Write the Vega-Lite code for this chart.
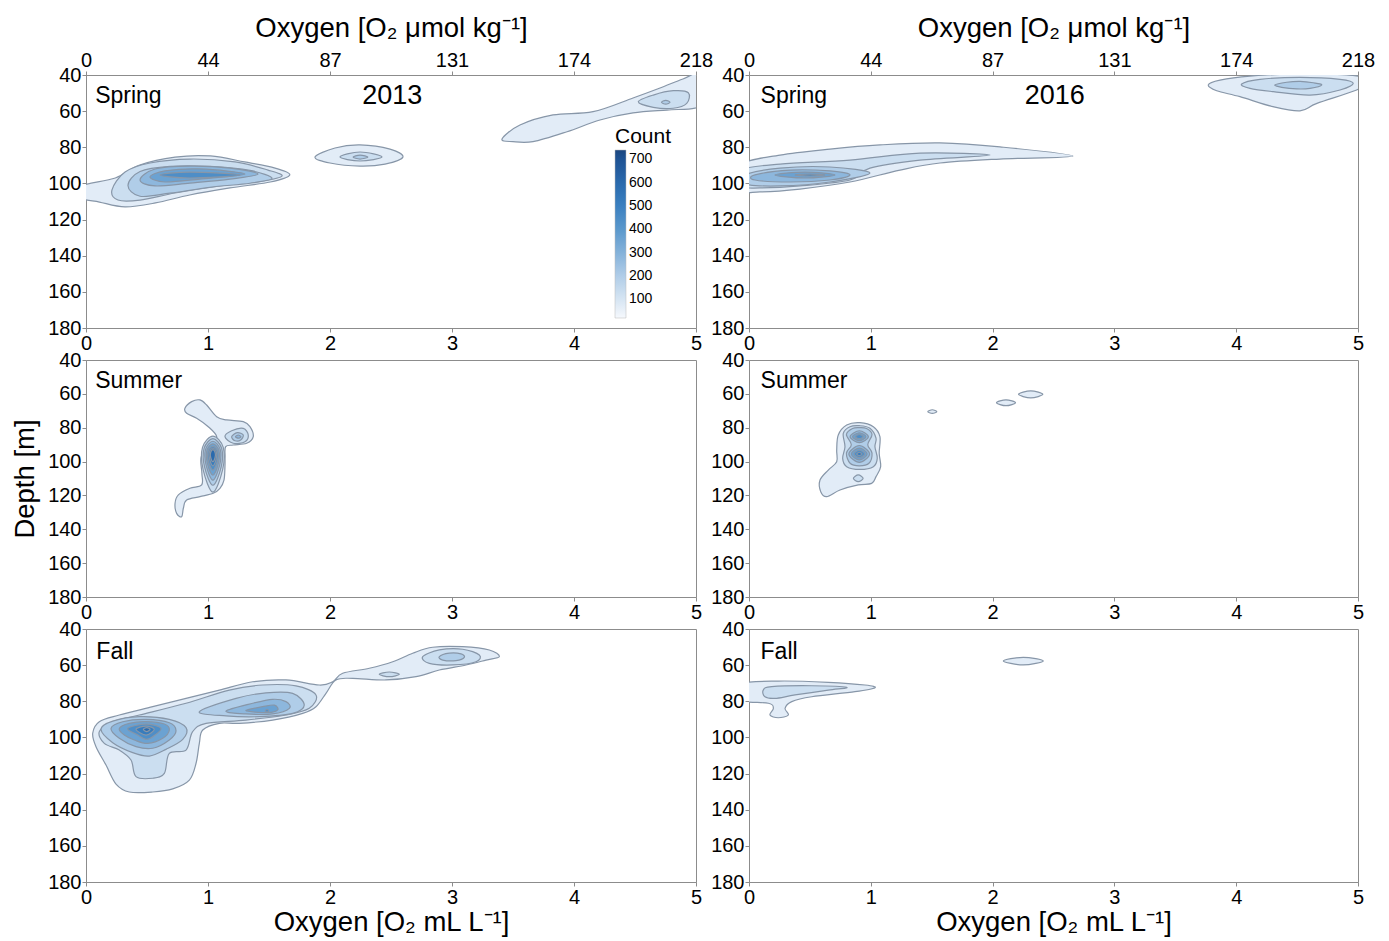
{
"$schema": "https://vega.github.io/schema/vega-lite/v6.json",
"padding": {"left": 11, "top": 13, "right": 5, "bottom": 2},
"config": {"font": "Liberation Sans", "view": {"stroke": "#8c8c8c", "strokeWidth": 1},
  "axis": {"domainColor": "#8c8c8c", "tickColor": "#8c8c8c", "tickSize": 4, "labelFontSize": 20, "labelColor": "black", "grid": false, "labelPadding": 1, "titleFontSize": 27.5, "titleFontWeight": "normal", "titleColor": "black", "labelFlush": false, "labelOverlap": false},
  "text": {"color": "black"}},
"datasets": {"contours": [
{"p":1,"poly":"070A1","count":70,"k":0,"o2":-0.04,"depth":101.5},{"p":1,"poly":"070A1","count":70,"k":1,"o2":0.24,"depth":97},{"p":1,"poly":"070A1","count":70,"k":2,"o2":0.44,"depth":89.8},{"p":1,"poly":"070A1","count":70,"k":3,"o2":0.73,"depth":85.4},{"p":1,"poly":"070A1","count":70,"k":4,"o2":1.02,"depth":84.8},{"p":1,"poly":"070A1","count":70,"k":5,"o2":1.3,"depth":88.1},{"p":1,"poly":"070A1","count":70,"k":6,"o2":1.55,"depth":91.5},{"p":1,"poly":"070A1","count":70,"k":7,"o2":1.67,"depth":95.3},{"p":1,"poly":"070A1","count":70,"k":8,"o2":1.51,"depth":99.2},{"p":1,"poly":"070A1","count":70,"k":9,"o2":1.18,"depth":102.5},{"p":1,"poly":"070A1","count":70,"k":10,"o2":0.85,"depth":106.4},{"p":1,"poly":"070A1","count":70,"k":11,"o2":0.57,"depth":110.8},{"p":1,"poly":"070A1","count":70,"k":12,"o2":0.32,"depth":113},{"p":1,"poly":"070A1","count":70,"k":13,"o2":0.11,"depth":110.3},{"p":1,"poly":"070A1","count":70,"k":14,"o2":-0.04,"depth":108},
{"p":1,"poly":"070B1","count":70,"k":0,"o2":1.877,"depth":85.4},{"p":1,"poly":"070B1","count":70,"k":1,"o2":2.041,"depth":80.4},{"p":1,"poly":"070B1","count":70,"k":2,"o2":2.246,"depth":78.7},{"p":1,"poly":"070B1","count":70,"k":3,"o2":2.492,"depth":81},{"p":1,"poly":"070B1","count":70,"k":4,"o2":2.598,"depth":85.4},{"p":1,"poly":"070B1","count":70,"k":5,"o2":2.451,"depth":89.3},{"p":1,"poly":"070B1","count":70,"k":6,"o2":2.246,"depth":90.4},{"p":1,"poly":"070B1","count":70,"k":7,"o2":2,"depth":88.7},
{"p":1,"poly":"070C1","count":70,"k":0,"o2":3.41,"depth":75.4},{"p":1,"poly":"070C1","count":70,"k":1,"o2":3.557,"depth":67.7},{"p":1,"poly":"070C1","count":70,"k":2,"o2":3.828,"depth":62.1},{"p":1,"poly":"070C1","count":70,"k":3,"o2":4.156,"depth":60.3},{"p":1,"poly":"070C1","count":70,"k":4,"o2":4.484,"depth":52.7},{"p":1,"poly":"070C1","count":70,"k":5,"o2":4.705,"depth":47.2},{"p":1,"poly":"070C1","count":70,"k":6,"o2":4.893,"depth":42.2},{"p":1,"poly":"070C1","count":70,"k":7,"o2":5.07,"depth":38.3},{"p":1,"poly":"070C1","count":70,"k":8,"o2":5.11,"depth":53.8},{"p":1,"poly":"070C1","count":70,"k":9,"o2":4.992,"depth":58.3},{"p":1,"poly":"070C1","count":70,"k":10,"o2":4.762,"depth":59.4},{"p":1,"poly":"070C1","count":70,"k":11,"o2":4.484,"depth":61},{"p":1,"poly":"070C1","count":70,"k":12,"o2":4.213,"depth":64.9},{"p":1,"poly":"070C1","count":70,"k":13,"o2":3.943,"depth":71.4},{"p":1,"poly":"070C1","count":70,"k":14,"o2":3.664,"depth":76.9},{"p":1,"poly":"070C1","count":70,"k":15,"o2":3.5,"depth":76.9},
{"p":1,"poly":"130A2","count":130,"k":0,"o2":0.213,"depth":103.6},{"p":1,"poly":"130A2","count":130,"k":1,"o2":0.32,"depth":93.7},{"p":1,"poly":"130A2","count":130,"k":2,"o2":0.525,"depth":88.7},{"p":1,"poly":"130A2","count":130,"k":3,"o2":0.852,"depth":86.5},{"p":1,"poly":"130A2","count":130,"k":4,"o2":1.221,"depth":88.1},{"p":1,"poly":"130A2","count":130,"k":5,"o2":1.492,"depth":92.6},{"p":1,"poly":"130A2","count":130,"k":6,"o2":1.607,"depth":95.9},{"p":1,"poly":"130A2","count":130,"k":7,"o2":1.443,"depth":98.7},{"p":1,"poly":"130A2","count":130,"k":8,"o2":1.098,"depth":101.4},{"p":1,"poly":"130A2","count":130,"k":9,"o2":0.73,"depth":105.3},{"p":1,"poly":"130A2","count":130,"k":10,"o2":0.443,"depth":109.2},{"p":1,"poly":"130A2","count":130,"k":11,"o2":0.262,"depth":109.2},
{"p":1,"poly":"130B2","count":130,"k":0,"o2":2.082,"depth":85.4},{"p":1,"poly":"130B2","count":130,"k":1,"o2":2.246,"depth":82.6},{"p":1,"poly":"130B2","count":130,"k":2,"o2":2.426,"depth":85.4},{"p":1,"poly":"130B2","count":130,"k":3,"o2":2.246,"depth":87.6},
{"p":1,"poly":"130C2","count":130,"k":0,"o2":4.527,"depth":54.8},{"p":1,"poly":"130C2","count":130,"k":1,"o2":4.65,"depth":51.1},{"p":1,"poly":"130C2","count":130,"k":2,"o2":4.814,"depth":48.7},{"p":1,"poly":"130C2","count":130,"k":3,"o2":4.937,"depth":49.8},{"p":1,"poly":"130C2","count":130,"k":4,"o2":4.924,"depth":55.7},{"p":1,"poly":"130C2","count":130,"k":5,"o2":4.814,"depth":58.4},{"p":1,"poly":"130C2","count":130,"k":6,"o2":4.65,"depth":57.9},
{"p":1,"poly":"200A3","count":200,"k":0,"o2":0.344,"depth":101.1},{"p":1,"poly":"200A3","count":200,"k":1,"o2":0.443,"depth":93.4},{"p":1,"poly":"200A3","count":200,"k":2,"o2":0.689,"depth":90.6},{"p":1,"poly":"200A3","count":200,"k":3,"o2":1.016,"depth":90.6},{"p":1,"poly":"200A3","count":200,"k":4,"o2":1.344,"depth":92.8},{"p":1,"poly":"200A3","count":200,"k":5,"o2":1.525,"depth":97.2},{"p":1,"poly":"200A3","count":200,"k":6,"o2":1.344,"depth":99.9},{"p":1,"poly":"200A3","count":200,"k":7,"o2":1.016,"depth":102.1},{"p":1,"poly":"200A3","count":200,"k":8,"o2":0.689,"depth":105.4},{"p":1,"poly":"200A3","count":200,"k":9,"o2":0.443,"depth":107.1},
{"p":1,"poly":"200B3","count":200,"k":0,"o2":2.189,"depth":85.4},{"p":1,"poly":"200B3","count":200,"k":1,"o2":2.246,"depth":84.3},{"p":1,"poly":"200B3","count":200,"k":2,"o2":2.311,"depth":85.4},{"p":1,"poly":"200B3","count":200,"k":3,"o2":2.246,"depth":86.5},
{"p":1,"poly":"200C3","count":200,"k":0,"o2":4.717,"depth":55.1},{"p":1,"poly":"200C3","count":200,"k":1,"o2":4.752,"depth":54},{"p":1,"poly":"200C3","count":200,"k":2,"o2":4.787,"depth":55.1},{"p":1,"poly":"200C3","count":200,"k":3,"o2":4.752,"depth":56.1},
{"p":1,"poly":"280A4","count":280,"k":0,"o2":0.443,"depth":98.1},{"p":1,"poly":"280A4","count":280,"k":1,"o2":0.566,"depth":92},{"p":1,"poly":"280A4","count":280,"k":2,"o2":0.852,"depth":90.4},{"p":1,"poly":"280A4","count":280,"k":3,"o2":1.18,"depth":91.5},{"p":1,"poly":"280A4","count":280,"k":4,"o2":1.41,"depth":94.8},{"p":1,"poly":"280A4","count":280,"k":5,"o2":1.18,"depth":97.6},{"p":1,"poly":"280A4","count":280,"k":6,"o2":0.852,"depth":99.8},{"p":1,"poly":"280A4","count":280,"k":7,"o2":0.566,"depth":101.4},
{"p":1,"poly":"360A5","count":360,"k":0,"o2":0.525,"depth":96.4},{"p":1,"poly":"360A5","count":360,"k":1,"o2":0.648,"depth":93.1},{"p":1,"poly":"360A5","count":360,"k":2,"o2":0.934,"depth":92},{"p":1,"poly":"360A5","count":360,"k":3,"o2":1.303,"depth":94.8},{"p":1,"poly":"360A5","count":360,"k":4,"o2":0.934,"depth":97.6},{"p":1,"poly":"360A5","count":360,"k":5,"o2":0.648,"depth":99.2},
{"p":1,"poly":"440A6","count":440,"k":0,"o2":0.607,"depth":95.3},{"p":1,"poly":"440A6","count":440,"k":1,"o2":0.852,"depth":93.7},{"p":1,"poly":"440A6","count":440,"k":2,"o2":1.262,"depth":95.3},{"p":1,"poly":"440A6","count":440,"k":3,"o2":0.852,"depth":97},

{"p":2,"poly":"070D1","count":70,"k":0,"o2":-0.074,"depth":89.8},{"p":2,"poly":"070D1","count":70,"k":1,"o2":0.255,"depth":84.3},{"p":2,"poly":"070D1","count":70,"k":2,"o2":0.665,"depth":81},{"p":2,"poly":"070D1","count":70,"k":3,"o2":1.076,"depth":78.7},{"p":2,"poly":"070D1","count":70,"k":4,"o2":1.568,"depth":77.6},{"p":2,"poly":"070D1","count":70,"k":5,"o2":2.061,"depth":79.8},{"p":2,"poly":"070D1","count":70,"k":6,"o2":2.66,"depth":84.8},{"p":2,"poly":"070D1","count":70,"k":7,"o2":2.061,"depth":86.5},{"p":2,"poly":"070D1","count":70,"k":8,"o2":1.568,"depth":88.7},{"p":2,"poly":"070D1","count":70,"k":9,"o2":1.24,"depth":92.6},{"p":2,"poly":"070D1","count":70,"k":10,"o2":0.829,"depth":99.2},{"p":2,"poly":"070D1","count":70,"k":11,"o2":0.419,"depth":103.1},{"p":2,"poly":"070D1","count":70,"k":12,"o2":0.09,"depth":104.7},{"p":2,"poly":"070D1","count":70,"k":13,"o2":-0.074,"depth":103.6},
{"p":2,"poly":"070E1","count":70,"k":0,"o2":3.771,"depth":45.5},{"p":2,"poly":"070E1","count":70,"k":1,"o2":3.867,"depth":42.8},{"p":2,"poly":"070E1","count":70,"k":2,"o2":4.113,"depth":40.6},{"p":2,"poly":"070E1","count":70,"k":3,"o2":4.524,"depth":39.4},{"p":2,"poly":"070E1","count":70,"k":4,"o2":4.907,"depth":40},{"p":2,"poly":"070E1","count":70,"k":5,"o2":5.14,"depth":42.8},{"p":2,"poly":"070E1","count":70,"k":6,"o2":4.989,"depth":48.3},{"p":2,"poly":"070E1","count":70,"k":7,"o2":4.663,"depth":55.7},{"p":2,"poly":"070E1","count":70,"k":8,"o2":4.524,"depth":59.8},{"p":2,"poly":"070E1","count":70,"k":9,"o2":4.302,"depth":57.5},{"p":2,"poly":"070E1","count":70,"k":10,"o2":4.031,"depth":52},{"p":2,"poly":"070E1","count":70,"k":11,"o2":3.84,"depth":48.7},
{"p":2,"poly":"130D2","count":130,"k":0,"o2":-0.074,"depth":92.6},{"p":2,"poly":"130D2","count":130,"k":1,"o2":0.255,"depth":89.3},{"p":2,"poly":"130D2","count":130,"k":2,"o2":0.829,"depth":87.1},{"p":2,"poly":"130D2","count":130,"k":3,"o2":1.404,"depth":83.2},{"p":2,"poly":"130D2","count":130,"k":4,"o2":1.979,"depth":84.3},{"p":2,"poly":"130D2","count":130,"k":5,"o2":1.404,"depth":87.1},{"p":2,"poly":"130D2","count":130,"k":6,"o2":0.993,"depth":91.5},{"p":2,"poly":"130D2","count":130,"k":7,"o2":0.829,"depth":98.1},{"p":2,"poly":"130D2","count":130,"k":8,"o2":0.419,"depth":101.4},{"p":2,"poly":"130D2","count":130,"k":9,"o2":0.09,"depth":102.5},{"p":2,"poly":"130D2","count":130,"k":10,"o2":-0.074,"depth":101.4},
{"p":2,"poly":"130E2","count":130,"k":0,"o2":4.045,"depth":45},{"p":2,"poly":"130E2","count":130,"k":1,"o2":4.195,"depth":42.4},{"p":2,"poly":"130E2","count":130,"k":2,"o2":4.524,"depth":41.3},{"p":2,"poly":"130E2","count":130,"k":3,"o2":4.852,"depth":42.4},{"p":2,"poly":"130E2","count":130,"k":4,"o2":4.961,"depth":44.6},{"p":2,"poly":"130E2","count":130,"k":5,"o2":4.852,"depth":48.3},{"p":2,"poly":"130E2","count":130,"k":6,"o2":4.606,"depth":51.1},{"p":2,"poly":"130E2","count":130,"k":7,"o2":4.304,"depth":49.2},{"p":2,"poly":"130E2","count":130,"k":8,"o2":4.113,"depth":47.4},
{"p":2,"poly":"200D3","count":200,"k":0,"o2":-0.033,"depth":95.3},{"p":2,"poly":"200D3","count":200,"k":1,"o2":0.255,"depth":91.5},{"p":2,"poly":"200D3","count":200,"k":2,"o2":0.665,"depth":90.9},{"p":2,"poly":"200D3","count":200,"k":3,"o2":0.993,"depth":94.2},{"p":2,"poly":"200D3","count":200,"k":4,"o2":0.665,"depth":99.2},{"p":2,"poly":"200D3","count":200,"k":5,"o2":0.255,"depth":101.4},{"p":2,"poly":"200D3","count":200,"k":6,"o2":-0.033,"depth":100.3},
{"p":2,"poly":"200E3","count":200,"k":0,"o2":4.318,"depth":45.5},{"p":2,"poly":"200E3","count":200,"k":1,"o2":4.415,"depth":44},{"p":2,"poly":"200E3","count":200,"k":2,"o2":4.524,"depth":43.5},{"p":2,"poly":"200E3","count":200,"k":3,"o2":4.633,"depth":44.3},{"p":2,"poly":"200E3","count":200,"k":4,"o2":4.702,"depth":45.5},{"p":2,"poly":"200E3","count":200,"k":5,"o2":4.606,"depth":47.4},{"p":2,"poly":"200E3","count":200,"k":6,"o2":4.497,"depth":47.7},{"p":2,"poly":"200E3","count":200,"k":7,"o2":4.374,"depth":46.8},
{"p":2,"poly":"280D4","count":280,"k":0,"o2":0.049,"depth":95.3},{"p":2,"poly":"280D4","count":280,"k":1,"o2":0.337,"depth":92.6},{"p":2,"poly":"280D4","count":280,"k":2,"o2":0.665,"depth":93.1},{"p":2,"poly":"280D4","count":280,"k":3,"o2":0.829,"depth":95.3},{"p":2,"poly":"280D4","count":280,"k":4,"o2":0.665,"depth":98.1},{"p":2,"poly":"280D4","count":280,"k":5,"o2":0.337,"depth":99.2},{"p":2,"poly":"280D4","count":280,"k":6,"o2":0.049,"depth":98.1},
{"p":2,"poly":"360D5","count":360,"k":0,"o2":0.213,"depth":95.3},{"p":2,"poly":"360D5","count":360,"k":1,"o2":0.46,"depth":93.7},{"p":2,"poly":"360D5","count":360,"k":2,"o2":0.706,"depth":95.3},{"p":2,"poly":"360D5","count":360,"k":3,"o2":0.46,"depth":97},
{"p":2,"poly":"480D6","count":480,"k":0,"o2":0.378,"depth":95.3},{"p":2,"poly":"480D6","count":480,"k":1,"o2":0.501,"depth":94.8},{"p":2,"poly":"480D6","count":480,"k":2,"o2":0.624,"depth":95.3},{"p":2,"poly":"480D6","count":480,"k":3,"o2":0.501,"depth":95.9},

{"p":3,"poly":"070F1","count":70,"k":0,"o2":0.811,"depth":68.5},{"p":3,"poly":"070F1","count":70,"k":1,"o2":0.866,"depth":64.6},{"p":3,"poly":"070F1","count":70,"k":2,"o2":0.934,"depth":63.6},{"p":3,"poly":"070F1","count":70,"k":3,"o2":0.989,"depth":66.6},{"p":3,"poly":"070F1","count":70,"k":4,"o2":1.071,"depth":73.5},{"p":3,"poly":"070F1","count":70,"k":5,"o2":1.153,"depth":75.4},{"p":3,"poly":"070F1","count":70,"k":6,"o2":1.289,"depth":76.4},{"p":3,"poly":"070F1","count":70,"k":7,"o2":1.344,"depth":79.4},{"p":3,"poly":"070F1","count":70,"k":8,"o2":1.371,"depth":85.3},{"p":3,"poly":"070F1","count":70,"k":9,"o2":1.317,"depth":89.2},{"p":3,"poly":"070F1","count":70,"k":10,"o2":1.207,"depth":90.2},{"p":3,"poly":"070F1","count":70,"k":11,"o2":1.145,"depth":91.2},{"p":3,"poly":"070F1","count":70,"k":12,"o2":1.14,"depth":97.1},{"p":3,"poly":"070F1","count":70,"k":13,"o2":1.139,"depth":103},{"p":3,"poly":"070F1","count":70,"k":14,"o2":1.131,"depth":110.9},{"p":3,"poly":"070F1","count":70,"k":15,"o2":1.098,"depth":115.8},{"p":3,"poly":"070F1","count":70,"k":16,"o2":1.043,"depth":118.7},{"p":3,"poly":"070F1","count":70,"k":17,"o2":0.934,"depth":120.7},{"p":3,"poly":"070F1","count":70,"k":18,"o2":0.825,"depth":122.7},{"p":3,"poly":"070F1","count":70,"k":19,"o2":0.798,"depth":127.6},{"p":3,"poly":"070F1","count":70,"k":20,"o2":0.784,"depth":132.6},{"p":3,"poly":"070F1","count":70,"k":21,"o2":0.743,"depth":130.6},{"p":3,"poly":"070F1","count":70,"k":22,"o2":0.73,"depth":124.6},{"p":3,"poly":"070F1","count":70,"k":23,"o2":0.757,"depth":119.7},{"p":3,"poly":"070F1","count":70,"k":24,"o2":0.852,"depth":115.8},{"p":3,"poly":"070F1","count":70,"k":25,"o2":0.948,"depth":113.8},{"p":3,"poly":"070F1","count":70,"k":26,"o2":0.95,"depth":106.9},{"p":3,"poly":"070F1","count":70,"k":27,"o2":0.945,"depth":97.1},{"p":3,"poly":"070F1","count":70,"k":28,"o2":1.03,"depth":91.2},{"p":3,"poly":"070F1","count":70,"k":29,"o2":1.071,"depth":85.3},{"p":3,"poly":"070F1","count":70,"k":30,"o2":1.002,"depth":79.4},{"p":3,"poly":"070F1","count":70,"k":31,"o2":0.907,"depth":74.4},{"p":3,"poly":"070F1","count":70,"k":32,"o2":0.825,"depth":71.5},
{"p":3,"poly":"130F2","count":130,"k":0,"o2":1.139,"depth":85.3},{"p":3,"poly":"130F2","count":130,"k":1,"o2":1.194,"depth":81.8},{"p":3,"poly":"130F2","count":130,"k":2,"o2":1.289,"depth":80.4},{"p":3,"poly":"130F2","count":130,"k":3,"o2":1.33,"depth":84.3},{"p":3,"poly":"130F2","count":130,"k":4,"o2":1.303,"depth":88.3},{"p":3,"poly":"130F2","count":130,"k":5,"o2":1.207,"depth":89.2},
{"p":3,"poly":"130G1","count":130,"k":0,"o2":1.04,"depth":85},{"p":3,"poly":"130G1","count":130,"k":1,"o2":1.125,"depth":91.6},{"p":3,"poly":"130G1","count":130,"k":2,"o2":1.12,"depth":104.8},{"p":3,"poly":"130G1","count":130,"k":3,"o2":1.04,"depth":118},{"p":3,"poly":"130G1","count":130,"k":4,"o2":0.96,"depth":104.8},{"p":3,"poly":"130G1","count":130,"k":5,"o2":0.955,"depth":91.6},
{"p":3,"poly":"200F3","count":200,"k":0,"o2":1.194,"depth":85.3},{"p":3,"poly":"200F3","count":200,"k":1,"o2":1.24,"depth":82.9},{"p":3,"poly":"200F3","count":200,"k":2,"o2":1.289,"depth":84.3},{"p":3,"poly":"200F3","count":200,"k":3,"o2":1.268,"depth":87.3},{"p":3,"poly":"200F3","count":200,"k":4,"o2":1.221,"depth":87.7},
{"p":3,"poly":"200G2","count":200,"k":0,"o2":1.04,"depth":86.5},{"p":3,"poly":"200G2","count":200,"k":1,"o2":1.112,"depth":92.2},{"p":3,"poly":"200G2","count":200,"k":2,"o2":1.108,"depth":103.2},{"p":3,"poly":"200G2","count":200,"k":3,"o2":1.04,"depth":114},{"p":3,"poly":"200G2","count":200,"k":4,"o2":0.972,"depth":103.2},{"p":3,"poly":"200G2","count":200,"k":5,"o2":0.968,"depth":92.2},
{"p":3,"poly":"280F4","count":280,"k":0,"o2":1.225,"depth":85.3},{"p":3,"poly":"280F4","count":280,"k":1,"o2":1.248,"depth":84.3},{"p":3,"poly":"280F4","count":280,"k":2,"o2":1.27,"depth":85.3},{"p":3,"poly":"280F4","count":280,"k":3,"o2":1.248,"depth":86.2},
{"p":3,"poly":"280G3","count":280,"k":0,"o2":1.04,"depth":88},{"p":3,"poly":"280G3","count":280,"k":1,"o2":1.1,"depth":92.8},{"p":3,"poly":"280G3","count":280,"k":2,"o2":1.096,"depth":102},{"p":3,"poly":"280G3","count":280,"k":3,"o2":1.04,"depth":111},{"p":3,"poly":"280G3","count":280,"k":4,"o2":0.984,"depth":102},{"p":3,"poly":"280G3","count":280,"k":5,"o2":0.98,"depth":92.8},
{"p":3,"poly":"360G4","count":360,"k":0,"o2":1.04,"depth":89.5},{"p":3,"poly":"360G4","count":360,"k":1,"o2":1.089,"depth":93.4},{"p":3,"poly":"360G4","count":360,"k":2,"o2":1.086,"depth":100.8},{"p":3,"poly":"360G4","count":360,"k":3,"o2":1.04,"depth":108},{"p":3,"poly":"360G4","count":360,"k":4,"o2":0.994,"depth":100.8},{"p":3,"poly":"360G4","count":360,"k":5,"o2":0.991,"depth":93.4},
{"p":3,"poly":"440G5","count":440,"k":0,"o2":1.04,"depth":91},{"p":3,"poly":"440G5","count":440,"k":1,"o2":1.079,"depth":94},{"p":3,"poly":"440G5","count":440,"k":2,"o2":1.077,"depth":99.6},{"p":3,"poly":"440G5","count":440,"k":3,"o2":1.04,"depth":105},{"p":3,"poly":"440G5","count":440,"k":4,"o2":1.003,"depth":99.6},{"p":3,"poly":"440G5","count":440,"k":5,"o2":1.001,"depth":94},
{"p":3,"poly":"520G6","count":520,"k":0,"o2":1.04,"depth":92},{"p":3,"poly":"520G6","count":520,"k":1,"o2":1.069,"depth":94.4},{"p":3,"poly":"520G6","count":520,"k":2,"o2":1.067,"depth":98.6},{"p":3,"poly":"520G6","count":520,"k":3,"o2":1.04,"depth":102.5},{"p":3,"poly":"520G6","count":520,"k":4,"o2":1.013,"depth":98.6},{"p":3,"poly":"520G6","count":520,"k":5,"o2":1.011,"depth":94.4},
{"p":3,"poly":"600G7","count":600,"k":0,"o2":1.04,"depth":93},{"p":3,"poly":"600G7","count":600,"k":1,"o2":1.059,"depth":94.8},{"p":3,"poly":"600G7","count":600,"k":2,"o2":1.058,"depth":97.6},{"p":3,"poly":"600G7","count":600,"k":3,"o2":1.04,"depth":100},{"p":3,"poly":"600G7","count":600,"k":4,"o2":1.022,"depth":97.6},{"p":3,"poly":"600G7","count":600,"k":5,"o2":1.021,"depth":94.8},

{"p":4,"poly":"070H1","count":70,"k":0,"o2":1.468,"depth":70.5},{"p":4,"poly":"070H1","count":70,"k":1,"o2":1.505,"depth":69.4},{"p":4,"poly":"070H1","count":70,"k":2,"o2":1.542,"depth":70.5},{"p":4,"poly":"070H1","count":70,"k":3,"o2":1.505,"depth":71.5},
{"p":4,"poly":"070H2","count":70,"k":0,"o2":2.032,"depth":65.2},{"p":4,"poly":"070H2","count":70,"k":1,"o2":2.11,"depth":63.5},{"p":4,"poly":"070H2","count":70,"k":2,"o2":2.188,"depth":65.2},{"p":4,"poly":"070H2","count":70,"k":3,"o2":2.11,"depth":67},
{"p":4,"poly":"070H3","count":70,"k":0,"o2":2.213,"depth":60.3},{"p":4,"poly":"070H3","count":70,"k":1,"o2":2.313,"depth":58.2},{"p":4,"poly":"070H3","count":70,"k":2,"o2":2.412,"depth":60.3},{"p":4,"poly":"070H3","count":70,"k":3,"o2":2.313,"depth":62.4},
{"p":4,"poly":"070I1","count":70,"k":0,"o2":0.733,"depth":84.3},{"p":4,"poly":"070I1","count":70,"k":1,"o2":0.802,"depth":78.4},{"p":4,"poly":"070I1","count":70,"k":2,"o2":0.911,"depth":77},{"p":4,"poly":"070I1","count":70,"k":3,"o2":1.021,"depth":79.4},{"p":4,"poly":"070I1","count":70,"k":4,"o2":1.075,"depth":85.3},{"p":4,"poly":"070I1","count":70,"k":5,"o2":1.069,"depth":95.1},{"p":4,"poly":"070I1","count":70,"k":6,"o2":1.081,"depth":103},{"p":4,"poly":"070I1","count":70,"k":7,"o2":1.043,"depth":108.9},{"p":4,"poly":"070I1","count":70,"k":8,"o2":1.007,"depth":112.9},{"p":4,"poly":"070I1","count":70,"k":9,"o2":0.897,"depth":113.8},{"p":4,"poly":"070I1","count":70,"k":10,"o2":0.747,"depth":116.8},{"p":4,"poly":"070I1","count":70,"k":11,"o2":0.638,"depth":120.7},{"p":4,"poly":"070I1","count":70,"k":12,"o2":0.589,"depth":117.8},{"p":4,"poly":"070I1","count":70,"k":13,"o2":0.583,"depth":110.9},{"p":4,"poly":"070I1","count":70,"k":14,"o2":0.651,"depth":105},{"p":4,"poly":"070I1","count":70,"k":15,"o2":0.72,"depth":100.1},{"p":4,"poly":"070I1","count":70,"k":16,"o2":0.72,"depth":93.2},
{"p":4,"poly":"130I2","count":130,"k":0,"o2":0.774,"depth":83.3},{"p":4,"poly":"130I2","count":130,"k":1,"o2":0.829,"depth":79.4},{"p":4,"poly":"130I2","count":130,"k":2,"o2":0.906,"depth":78.8},{"p":4,"poly":"130I2","count":130,"k":3,"o2":0.993,"depth":80.3},{"p":4,"poly":"130I2","count":130,"k":4,"o2":1.043,"depth":86.2},{"p":4,"poly":"130I2","count":130,"k":5,"o2":1.034,"depth":91.2},{"p":4,"poly":"130I2","count":130,"k":6,"o2":1.053,"depth":98.1},{"p":4,"poly":"130I2","count":130,"k":7,"o2":1.021,"depth":103},{"p":4,"poly":"130I2","count":130,"k":8,"o2":0.911,"depth":104.6},{"p":4,"poly":"130I2","count":130,"k":9,"o2":0.802,"depth":103},{"p":4,"poly":"130I2","count":130,"k":10,"o2":0.769,"depth":98.1},{"p":4,"poly":"130I2","count":130,"k":11,"o2":0.788,"depth":91.2},
{"p":4,"poly":"130I9","count":130,"k":0,"o2":0.857,"depth":109.9},{"p":4,"poly":"130I9","count":130,"k":1,"o2":0.897,"depth":107.9},{"p":4,"poly":"130I9","count":130,"k":2,"o2":0.937,"depth":109.9},{"p":4,"poly":"130I9","count":130,"k":3,"o2":0.897,"depth":111.9},
{"p":4,"poly":"200I3","count":200,"k":0,"o2":0.8,"depth":84},{"p":4,"poly":"200I3","count":200,"k":1,"o2":0.85,"depth":80.5},{"p":4,"poly":"200I3","count":200,"k":2,"o2":0.906,"depth":80},{"p":4,"poly":"200I3","count":200,"k":3,"o2":0.965,"depth":80.5},{"p":4,"poly":"200I3","count":200,"k":4,"o2":1.01,"depth":84},{"p":4,"poly":"200I3","count":200,"k":5,"o2":0.975,"depth":90},{"p":4,"poly":"200I3","count":200,"k":6,"o2":1.01,"depth":95},{"p":4,"poly":"200I3","count":200,"k":7,"o2":0.985,"depth":101},{"p":4,"poly":"200I3","count":200,"k":8,"o2":0.906,"depth":102.5},{"p":4,"poly":"200I3","count":200,"k":9,"o2":0.83,"depth":101},{"p":4,"poly":"200I3","count":200,"k":10,"o2":0.8,"depth":95},{"p":4,"poly":"200I3","count":200,"k":11,"o2":0.84,"depth":90},
{"p":4,"poly":"280U1","count":280,"k":0,"o2":0.83,"depth":85.3},{"p":4,"poly":"280U1","count":280,"k":1,"o2":0.906,"depth":81.8},{"p":4,"poly":"280U1","count":280,"k":2,"o2":0.98,"depth":85.3},{"p":4,"poly":"280U1","count":280,"k":3,"o2":0.906,"depth":88.8},
{"p":4,"poly":"280L1","count":280,"k":0,"o2":0.82,"depth":95.5},{"p":4,"poly":"280L1","count":280,"k":1,"o2":0.906,"depth":90.5},{"p":4,"poly":"280L1","count":280,"k":2,"o2":0.99,"depth":95.5},{"p":4,"poly":"280L1","count":280,"k":3,"o2":0.906,"depth":100.5},
{"p":4,"poly":"360U2","count":360,"k":0,"o2":0.85,"depth":85.3},{"p":4,"poly":"360U2","count":360,"k":1,"o2":0.906,"depth":83},{"p":4,"poly":"360U2","count":360,"k":2,"o2":0.96,"depth":85.3},{"p":4,"poly":"360U2","count":360,"k":3,"o2":0.906,"depth":87.6},
{"p":4,"poly":"360L2","count":360,"k":0,"o2":0.84,"depth":95.5},{"p":4,"poly":"360L2","count":360,"k":1,"o2":0.906,"depth":92},{"p":4,"poly":"360L2","count":360,"k":2,"o2":0.97,"depth":95.5},{"p":4,"poly":"360L2","count":360,"k":3,"o2":0.906,"depth":99},
{"p":4,"poly":"440U3","count":440,"k":0,"o2":0.875,"depth":85.3},{"p":4,"poly":"440U3","count":440,"k":1,"o2":0.906,"depth":84},{"p":4,"poly":"440U3","count":440,"k":2,"o2":0.937,"depth":85.3},{"p":4,"poly":"440U3","count":440,"k":3,"o2":0.906,"depth":86.5},
{"p":4,"poly":"440L3","count":440,"k":0,"o2":0.862,"depth":95.5},{"p":4,"poly":"440L3","count":440,"k":1,"o2":0.906,"depth":93.3},{"p":4,"poly":"440L3","count":440,"k":2,"o2":0.95,"depth":95.5},{"p":4,"poly":"440L3","count":440,"k":3,"o2":0.906,"depth":97.7},
{"p":4,"poly":"520L4","count":520,"k":0,"o2":0.885,"depth":95.5},{"p":4,"poly":"520L4","count":520,"k":1,"o2":0.906,"depth":94.5},{"p":4,"poly":"520L4","count":520,"k":2,"o2":0.927,"depth":95.5},{"p":4,"poly":"520L4","count":520,"k":3,"o2":0.906,"depth":96.5},

{"p":5,"poly":"070J1","count":70,"k":0,"o2":0.055,"depth":97.7},{"p":5,"poly":"070J1","count":70,"k":1,"o2":0.109,"depth":91.3},{"p":5,"poly":"070J1","count":70,"k":2,"o2":0.273,"depth":87.6},{"p":5,"poly":"070J1","count":70,"k":3,"o2":0.547,"depth":83},{"p":5,"poly":"070J1","count":70,"k":4,"o2":0.82,"depth":78.4},{"p":5,"poly":"070J1","count":70,"k":5,"o2":1.093,"depth":73.8},{"p":5,"poly":"070J1","count":70,"k":6,"o2":1.366,"depth":69.2},{"p":5,"poly":"070J1","count":70,"k":7,"o2":1.639,"depth":68.2},{"p":5,"poly":"070J1","count":70,"k":8,"o2":1.912,"depth":71},{"p":5,"poly":"070J1","count":70,"k":9,"o2":2.022,"depth":69.2},{"p":5,"poly":"070J1","count":70,"k":10,"o2":2.104,"depth":64.5},{"p":5,"poly":"070J1","count":70,"k":11,"o2":2.322,"depth":61.7},{"p":5,"poly":"070J1","count":70,"k":12,"o2":2.514,"depth":58.1},{"p":5,"poly":"070J1","count":70,"k":13,"o2":2.678,"depth":53.4},{"p":5,"poly":"070J1","count":70,"k":14,"o2":2.842,"depth":50.1},{"p":5,"poly":"070J1","count":70,"k":15,"o2":3.088,"depth":49.8},{"p":5,"poly":"070J1","count":70,"k":16,"o2":3.306,"depth":51.6},{"p":5,"poly":"070J1","count":70,"k":17,"o2":3.388,"depth":55.3},{"p":5,"poly":"070J1","count":70,"k":18,"o2":3.279,"depth":57.2},{"p":5,"poly":"070J1","count":70,"k":19,"o2":3.115,"depth":59.9},{"p":5,"poly":"070J1","count":70,"k":20,"o2":2.896,"depth":62.7},{"p":5,"poly":"070J1","count":70,"k":21,"o2":2.705,"depth":66.4},{"p":5,"poly":"070J1","count":70,"k":22,"o2":2.459,"depth":68.2},{"p":5,"poly":"070J1","count":70,"k":23,"o2":2.186,"depth":67.3},{"p":5,"poly":"070J1","count":70,"k":24,"o2":2.049,"depth":68.2},{"p":5,"poly":"070J1","count":70,"k":25,"o2":1.967,"depth":75.6},{"p":5,"poly":"070J1","count":70,"k":26,"o2":1.885,"depth":83},{"p":5,"poly":"070J1","count":70,"k":27,"o2":1.776,"depth":86.7},{"p":5,"poly":"070J1","count":70,"k":28,"o2":1.53,"depth":90.4},{"p":5,"poly":"070J1","count":70,"k":29,"o2":1.257,"depth":92.2},{"p":5,"poly":"070J1","count":70,"k":30,"o2":1.093,"depth":92.2},{"p":5,"poly":"070J1","count":70,"k":31,"o2":0.957,"depth":95.9},{"p":5,"poly":"070J1","count":70,"k":32,"o2":0.929,"depth":103.3},{"p":5,"poly":"070J1","count":70,"k":33,"o2":0.902,"depth":114.3},{"p":5,"poly":"070J1","count":70,"k":34,"o2":0.847,"depth":123.6},{"p":5,"poly":"070J1","count":70,"k":35,"o2":0.711,"depth":128.5},{"p":5,"poly":"070J1","count":70,"k":36,"o2":0.547,"depth":130.2},{"p":5,"poly":"070J1","count":70,"k":37,"o2":0.355,"depth":130.2},{"p":5,"poly":"070J1","count":70,"k":38,"o2":0.246,"depth":125.8},{"p":5,"poly":"070J1","count":70,"k":39,"o2":0.164,"depth":115.3},{"p":5,"poly":"070J1","count":70,"k":40,"o2":0.082,"depth":105.1},
{"p":5,"poly":"130J2","count":130,"k":0,"o2":0.109,"depth":96.8},{"p":5,"poly":"130J2","count":130,"k":1,"o2":0.219,"depth":91.3},{"p":5,"poly":"130J2","count":130,"k":2,"o2":0.437,"depth":87.6},{"p":5,"poly":"130J2","count":130,"k":3,"o2":0.82,"depth":81.1},{"p":5,"poly":"130J2","count":130,"k":4,"o2":1.175,"depth":73.8},{"p":5,"poly":"130J2","count":130,"k":5,"o2":1.448,"depth":71},{"p":5,"poly":"130J2","count":130,"k":6,"o2":1.721,"depth":71.5},{"p":5,"poly":"130J2","count":130,"k":7,"o2":1.885,"depth":76.5},{"p":5,"poly":"130J2","count":130,"k":8,"o2":1.83,"depth":83.9},{"p":5,"poly":"130J2","count":130,"k":9,"o2":1.639,"depth":87.6},{"p":5,"poly":"130J2","count":130,"k":10,"o2":1.311,"depth":90.4},{"p":5,"poly":"130J2","count":130,"k":11,"o2":0.984,"depth":92.2},{"p":5,"poly":"130J2","count":130,"k":12,"o2":0.874,"depth":96.8},{"p":5,"poly":"130J2","count":130,"k":13,"o2":0.82,"depth":107},{"p":5,"poly":"130J2","count":130,"k":14,"o2":0.683,"depth":108.8},{"p":5,"poly":"130J2","count":130,"k":15,"o2":0.642,"depth":119.9},{"p":5,"poly":"130J2","count":130,"k":16,"o2":0.547,"depth":122.6},{"p":5,"poly":"130J2","count":130,"k":17,"o2":0.41,"depth":121.7},{"p":5,"poly":"130J2","count":130,"k":18,"o2":0.369,"depth":112.5},{"p":5,"poly":"130J2","count":130,"k":19,"o2":0.273,"depth":107},{"p":5,"poly":"130J2","count":130,"k":20,"o2":0.15,"depth":103.3},
{"p":5,"poly":"130J3","count":130,"k":0,"o2":2.76,"depth":55.3},{"p":5,"poly":"130J3","count":130,"k":1,"o2":2.896,"depth":51.6},{"p":5,"poly":"130J3","count":130,"k":2,"o2":3.088,"depth":51.2},{"p":5,"poly":"130J3","count":130,"k":3,"o2":3.224,"depth":54.4},{"p":5,"poly":"130J3","count":130,"k":4,"o2":3.197,"depth":58.1},{"p":5,"poly":"130J3","count":130,"k":5,"o2":3.006,"depth":59.9},{"p":5,"poly":"130J3","count":130,"k":6,"o2":2.814,"depth":59},
{"p":5,"poly":"130J5","count":130,"k":0,"o2":2.404,"depth":65.1},{"p":5,"poly":"130J5","count":130,"k":1,"o2":2.486,"depth":63.8},{"p":5,"poly":"130J5","count":130,"k":2,"o2":2.568,"depth":65.1},{"p":5,"poly":"130J5","count":130,"k":3,"o2":2.486,"depth":66.4},
{"p":5,"poly":"200J4","count":200,"k":0,"o2":2.896,"depth":55.3},{"p":5,"poly":"200J4","count":200,"k":1,"o2":2.978,"depth":53.4},{"p":5,"poly":"200J4","count":200,"k":2,"o2":3.074,"depth":53.8},{"p":5,"poly":"200J4","count":200,"k":3,"o2":3.101,"depth":55.7},{"p":5,"poly":"200J4","count":200,"k":4,"o2":3.033,"depth":57.5},{"p":5,"poly":"200J4","count":200,"k":5,"o2":2.924,"depth":57.2},
{"p":5,"poly":"200J6","count":200,"k":0,"o2":0.929,"depth":85.8},{"p":5,"poly":"200J6","count":200,"k":1,"o2":1.23,"depth":78.4},{"p":5,"poly":"200J6","count":200,"k":2,"o2":1.475,"depth":75.3},{"p":5,"poly":"200J6","count":200,"k":3,"o2":1.694,"depth":75.6},{"p":5,"poly":"200J6","count":200,"k":4,"o2":1.789,"depth":82.1},{"p":5,"poly":"200J6","count":200,"k":5,"o2":1.694,"depth":86.7},{"p":5,"poly":"200J6","count":200,"k":6,"o2":1.421,"depth":88.5},{"p":5,"poly":"200J6","count":200,"k":7,"o2":1.148,"depth":88.1},
{"p":5,"poly":"200K1","count":200,"k":0,"o2":0.123,"depth":95.5},{"p":5,"poly":"200K1","count":200,"k":1,"o2":0.219,"depth":91},{"p":5,"poly":"200K1","count":200,"k":2,"o2":0.437,"depth":88.5},{"p":5,"poly":"200K1","count":200,"k":3,"o2":0.683,"depth":90},{"p":5,"poly":"200K1","count":200,"k":4,"o2":0.82,"depth":94.6},{"p":5,"poly":"200K1","count":200,"k":5,"o2":0.793,"depth":101.1},{"p":5,"poly":"200K1","count":200,"k":6,"o2":0.656,"depth":106.6},{"p":5,"poly":"200K1","count":200,"k":7,"o2":0.519,"depth":110.3},{"p":5,"poly":"200K1","count":200,"k":8,"o2":0.383,"depth":108.4},{"p":5,"poly":"200K1","count":200,"k":9,"o2":0.219,"depth":102.9},
{"p":5,"poly":"280J7","count":280,"k":0,"o2":1.148,"depth":85.4},{"p":5,"poly":"280J7","count":280,"k":1,"o2":1.366,"depth":81.1},{"p":5,"poly":"280J7","count":280,"k":2,"o2":1.53,"depth":78.9},{"p":5,"poly":"280J7","count":280,"k":3,"o2":1.639,"depth":80.2},{"p":5,"poly":"280J7","count":280,"k":4,"o2":1.667,"depth":83.9},{"p":5,"poly":"280J7","count":280,"k":5,"o2":1.53,"depth":87},{"p":5,"poly":"280J7","count":280,"k":6,"o2":1.311,"depth":87},
{"p":5,"poly":"280K2","count":280,"k":0,"o2":0.205,"depth":95},{"p":5,"poly":"280K2","count":280,"k":1,"o2":0.301,"depth":91.3},{"p":5,"poly":"280K2","count":280,"k":2,"o2":0.492,"depth":90},{"p":5,"poly":"280K2","count":280,"k":3,"o2":0.683,"depth":91.9},{"p":5,"poly":"280K2","count":280,"k":4,"o2":0.738,"depth":96.3},{"p":5,"poly":"280K2","count":280,"k":5,"o2":0.683,"depth":101.4},{"p":5,"poly":"280K2","count":280,"k":6,"o2":0.547,"depth":106},{"p":5,"poly":"280K2","count":280,"k":7,"o2":0.41,"depth":105.1},{"p":5,"poly":"280K2","count":280,"k":8,"o2":0.273,"depth":100.5},
{"p":5,"poly":"360J8","count":360,"k":0,"o2":1.311,"depth":85.2},{"p":5,"poly":"360J8","count":360,"k":1,"o2":1.448,"depth":83},{"p":5,"poly":"360J8","count":360,"k":2,"o2":1.544,"depth":82.1},{"p":5,"poly":"360J8","count":360,"k":3,"o2":1.571,"depth":84.8},{"p":5,"poly":"360J8","count":360,"k":4,"o2":1.489,"depth":86.3},
{"p":5,"poly":"360K3","count":360,"k":0,"o2":0.273,"depth":95},{"p":5,"poly":"360K3","count":360,"k":1,"o2":0.355,"depth":92.2},{"p":5,"poly":"360K3","count":360,"k":2,"o2":0.492,"depth":91.3},{"p":5,"poly":"360K3","count":360,"k":3,"o2":0.642,"depth":92.6},{"p":5,"poly":"360K3","count":360,"k":4,"o2":0.683,"depth":95.9},{"p":5,"poly":"360K3","count":360,"k":5,"o2":0.629,"depth":100.5},{"p":5,"poly":"360K3","count":360,"k":6,"o2":0.506,"depth":103.3},{"p":5,"poly":"360K3","count":360,"k":7,"o2":0.396,"depth":101.4},{"p":5,"poly":"360K3","count":360,"k":8,"o2":0.314,"depth":98.7},
{"p":5,"poly":"440J9","count":440,"k":0,"o2":1.47,"depth":85.2},{"p":5,"poly":"440J9","count":440,"k":1,"o2":1.484,"depth":84.5},{"p":5,"poly":"440J9","count":440,"k":2,"o2":1.498,"depth":85.2},{"p":5,"poly":"440J9","count":440,"k":3,"o2":1.484,"depth":85.9},
{"p":5,"poly":"440K4","count":440,"k":0,"o2":0.342,"depth":95},{"p":5,"poly":"440K4","count":440,"k":1,"o2":0.492,"depth":92.6},{"p":5,"poly":"440K4","count":440,"k":2,"o2":0.615,"depth":95},{"p":5,"poly":"440K4","count":440,"k":3,"o2":0.547,"depth":99.6},{"p":5,"poly":"440K4","count":440,"k":4,"o2":0.492,"depth":101.1},{"p":5,"poly":"440K4","count":440,"k":5,"o2":0.424,"depth":98.7},
{"p":5,"poly":"520K5","count":520,"k":0,"o2":0.41,"depth":95.5},{"p":5,"poly":"520K5","count":520,"k":1,"o2":0.492,"depth":93.7},{"p":5,"poly":"520K5","count":520,"k":2,"o2":0.56,"depth":95.5},{"p":5,"poly":"520K5","count":520,"k":3,"o2":0.492,"depth":98.7},
{"p":5,"poly":"600K6","count":600,"k":0,"o2":0.47,"depth":95.5},{"p":5,"poly":"600K6","count":600,"k":1,"o2":0.498,"depth":94.6},{"p":5,"poly":"600K6","count":600,"k":2,"o2":0.525,"depth":95.5},{"p":5,"poly":"600K6","count":600,"k":3,"o2":0.498,"depth":96.8},

{"p":6,"poly":"070L1","count":70,"k":0,"o2":-0.088,"depth":70.6},{"p":6,"poly":"070L1","count":70,"k":1,"o2":0.24,"depth":68.8},{"p":6,"poly":"070L1","count":70,"k":2,"o2":0.651,"depth":69.5},{"p":6,"poly":"070L1","count":70,"k":3,"o2":0.952,"depth":71},{"p":6,"poly":"070L1","count":70,"k":4,"o2":1.034,"depth":72.5},{"p":6,"poly":"070L1","count":70,"k":5,"o2":0.87,"depth":74.7},{"p":6,"poly":"070L1","count":70,"k":6,"o2":0.515,"depth":77.5},{"p":6,"poly":"070L1","count":70,"k":7,"o2":0.351,"depth":80.2},{"p":6,"poly":"070L1","count":70,"k":8,"o2":0.296,"depth":83.9},{"p":6,"poly":"070L1","count":70,"k":9,"o2":0.323,"depth":87.6},{"p":6,"poly":"070L1","count":70,"k":10,"o2":0.24,"depth":89.1},{"p":6,"poly":"070L1","count":70,"k":11,"o2":0.172,"depth":87.6},{"p":6,"poly":"070L1","count":70,"k":12,"o2":0.2,"depth":83.9},{"p":6,"poly":"070L1","count":70,"k":13,"o2":0.159,"depth":81.1},{"p":6,"poly":"070L1","count":70,"k":14,"o2":-0.088,"depth":79.3},
{"p":6,"poly":"070L3","count":70,"k":0,"o2":2.088,"depth":57.7},{"p":6,"poly":"070L3","count":70,"k":1,"o2":2.252,"depth":55.7},{"p":6,"poly":"070L3","count":70,"k":2,"o2":2.416,"depth":57.7},{"p":6,"poly":"070L3","count":70,"k":3,"o2":2.252,"depth":59.9},
{"p":6,"poly":"130L2","count":130,"k":0,"o2":0.117,"depth":73.8},{"p":6,"poly":"130L2","count":130,"k":1,"o2":0.186,"depth":71.9},{"p":6,"poly":"130L2","count":130,"k":2,"o2":0.515,"depth":71.4},{"p":6,"poly":"130L2","count":130,"k":3,"o2":0.802,"depth":72.3},{"p":6,"poly":"130L2","count":130,"k":4,"o2":0.651,"depth":73.8},{"p":6,"poly":"130L2","count":130,"k":5,"o2":0.378,"depth":76.5},{"p":6,"poly":"130L2","count":130,"k":6,"o2":0.213,"depth":78.4},{"p":6,"poly":"130L2","count":130,"k":7,"o2":0.131,"depth":77.5}
]},
"columns": 2,
"align": "each",
"bounds": "flush",
"spacing": {"row": 32, "column": 53},
"resolve": {"scale": {"fill": "independent"}, "legend": {"fill": "independent"}},
"concat": [
{"width": 610, "height": 253,
 "layer": [
  {"data": {"name": "contours"}, "transform": [{"filter": "datum.p == 1"}],
   "mark": {"type": "line", "interpolate": "cardinal-closed", "stroke": "#8796a8", "strokeWidth": 1.2, "clip": true},
   "encoding": {
    "x": {"field": "o2", "type": "quantitative", "scale": {"domain": [0, 5], "nice": false}, "axis": {"orient": "bottom", "values": [0,1,2,3,4,5], "title": null}},
    "y": {"field": "depth", "type": "quantitative", "scale": {"domain": [40, 180], "reverse": true, "nice": false, "zero": false}, "axis": {"values": [40,60,80,100,120,140,160,180], "title": null}},
    "detail": {"field": "poly"},
    "order": {"field": "k", "type": "quantitative"},
    "fill": {"field": "count", "type": "quantitative", "scale": {"domain": [20,100,200,300,400,500,600,700,740], "range": ["#f6f9fd","#d6e5f3","#b0cde8","#84b2da","#5a98cc","#3b80c0","#2a6aad","#1f5394","#1b467f"]},
      "legend": {"orient": "none", "legendX": 529, "legendY": 51, "title": "Count", "titleFontSize": 21, "titleFontWeight": "normal", "titleColor": "black", "titlePadding": 3, "values": [100,200,300,400,500,600,700], "gradientLength": 168, "gradientThickness": 11, "labelFontSize": 14, "labelColor": "black", "labelOffset": 3, "direction": "vertical", "gradientStrokeColor": "#bbbbbb", "gradientStrokeWidth": 0.5}}
   }},
  {"data": {"values": [{"label": "Spring"}]},
   "mark": {"type": "text", "align": "left", "baseline": "middle", "fontSize": 23},
   "encoding": {"x": {"datum": 0.075, "type": "quantitative", "axis": null}, "y": {"datum": 51.6, "type": "quantitative", "axis": {"values": [40,60,80,100,120,140,160,180], "title": null}}, "text": {"field": "label"}}},
  {"data": {"values": [{"label": "2013"}]},
   "mark": {"type": "text", "align": "center", "baseline": "middle", "fontSize": 27},
   "encoding": {"x": {"datum": 2.51, "type": "quantitative", "axis": {"orient": "top", "values": [0,1,2,3,4,5], "labelExpr": "round(datum.value * 43.6)", "title": "Oxygen [O₂ μmol kg⁻¹]", "titlePadding": 8}}, "y": {"datum": 51.6, "type": "quantitative", "axis": {"values": [40,60,80,100,120,140,160,180], "title": null}}, "text": {"field": "label"}}}
 ],
 "resolve": {"axis": {"x": "independent"}}
},
{"width": 609, "height": 253,
 "layer": [
  {"data": {"name": "contours"}, "transform": [{"filter": "datum.p == 2"}],
   "mark": {"type": "line", "interpolate": "cardinal-closed", "stroke": "#8796a8", "strokeWidth": 1.2, "clip": true},
   "encoding": {
    "x": {"field": "o2", "type": "quantitative", "scale": {"domain": [0, 5], "nice": false}, "axis": {"orient": "bottom", "values": [0,1,2,3,4,5], "title": null}},
    "y": {"field": "depth", "type": "quantitative", "scale": {"domain": [40, 180], "reverse": true, "nice": false, "zero": false}, "axis": {"values": [40,60,80,100,120,140,160,180], "title": null}},
    "detail": {"field": "poly"},
    "order": {"field": "k", "type": "quantitative"},
    "fill": {"field": "count", "type": "quantitative", "scale": {"domain": [20,100,200,300,400,500,600,700,740], "range": ["#f6f9fd","#d6e5f3","#b0cde8","#84b2da","#5a98cc","#3b80c0","#2a6aad","#1f5394","#1b467f"]}, "legend": null}
   }},
  {"data": {"values": [{"label": "Spring"}]},
   "mark": {"type": "text", "align": "left", "baseline": "middle", "fontSize": 23},
   "encoding": {"x": {"datum": 0.095, "type": "quantitative", "axis": null}, "y": {"datum": 51.6, "type": "quantitative", "axis": {"values": [40,60,80,100,120,140,160,180], "title": null}}, "text": {"field": "label"}}},
  {"data": {"values": [{"label": "2016"}]},
   "mark": {"type": "text", "align": "center", "baseline": "middle", "fontSize": 27},
   "encoding": {"x": {"datum": 2.51, "type": "quantitative", "axis": {"orient": "top", "values": [0,1,2,3,4,5], "labelExpr": "round(datum.value * 43.6)", "title": "Oxygen [O₂ μmol kg⁻¹]", "titlePadding": 8}}, "y": {"datum": 51.6, "type": "quantitative", "axis": {"values": [40,60,80,100,120,140,160,180], "title": null}}, "text": {"field": "label"}}}
 ],
 "resolve": {"axis": {"x": "independent"}}
},
{"width": 610, "height": 237,
 "layer": [
  {"data": {"name": "contours"}, "transform": [{"filter": "datum.p == 3"}],
   "mark": {"type": "line", "interpolate": "cardinal-closed", "stroke": "#8796a8", "strokeWidth": 1.2, "clip": true},
   "encoding": {
    "x": {"field": "o2", "type": "quantitative", "scale": {"domain": [0, 5], "nice": false}, "axis": {"orient": "bottom", "values": [0,1,2,3,4,5], "title": null}},
    "y": {"field": "depth", "type": "quantitative", "scale": {"domain": [40, 180], "reverse": true, "nice": false, "zero": false}, "axis": {"values": [40,60,80,100,120,140,160,180], "title": "Depth [m]", "titlePadding": 8}},
    "detail": {"field": "poly"},
    "order": {"field": "k", "type": "quantitative"},
    "fill": {"field": "count", "type": "quantitative", "scale": {"domain": [20,100,200,300,400,500,600,700,740], "range": ["#f6f9fd","#d6e5f3","#b0cde8","#84b2da","#5a98cc","#3b80c0","#2a6aad","#1f5394","#1b467f"]}, "legend": null}
   }},
  {"data": {"values": [{"label": "Summer"}]},
   "mark": {"type": "text", "align": "left", "baseline": "middle", "fontSize": 23},
   "encoding": {"x": {"datum": 0.075, "type": "quantitative", "axis": null}, "y": {"datum": 52.4, "type": "quantitative", "axis": {"values": [40,60,80,100,120,140,160,180], "title": "Depth [m]", "titlePadding": 8}}, "text": {"field": "label"}}}
 ],
 "resolve": {"axis": {"x": "independent"}}
},
{"width": 609, "height": 237,
 "layer": [
  {"data": {"name": "contours"}, "transform": [{"filter": "datum.p == 4"}],
   "mark": {"type": "line", "interpolate": "cardinal-closed", "stroke": "#8796a8", "strokeWidth": 1.2, "clip": true},
   "encoding": {
    "x": {"field": "o2", "type": "quantitative", "scale": {"domain": [0, 5], "nice": false}, "axis": {"orient": "bottom", "values": [0,1,2,3,4,5], "title": null}},
    "y": {"field": "depth", "type": "quantitative", "scale": {"domain": [40, 180], "reverse": true, "nice": false, "zero": false}, "axis": {"values": [40,60,80,100,120,140,160,180], "title": null}},
    "detail": {"field": "poly"},
    "order": {"field": "k", "type": "quantitative"},
    "fill": {"field": "count", "type": "quantitative", "scale": {"domain": [20,100,200,300,400,500,600,700,740], "range": ["#f6f9fd","#d6e5f3","#b0cde8","#84b2da","#5a98cc","#3b80c0","#2a6aad","#1f5394","#1b467f"]}, "legend": null}
   }},
  {"data": {"values": [{"label": "Summer"}]},
   "mark": {"type": "text", "align": "left", "baseline": "middle", "fontSize": 23},
   "encoding": {"x": {"datum": 0.095, "type": "quantitative", "axis": null}, "y": {"datum": 52.4, "type": "quantitative", "axis": {"values": [40,60,80,100,120,140,160,180], "title": null}}, "text": {"field": "label"}}}
 ],
 "resolve": {"axis": {"x": "independent"}}
},
{"width": 610, "height": 253,
 "layer": [
  {"data": {"name": "contours"}, "transform": [{"filter": "datum.p == 5"}],
   "mark": {"type": "line", "interpolate": "cardinal-closed", "stroke": "#8796a8", "strokeWidth": 1.2, "clip": true},
   "encoding": {
    "x": {"field": "o2", "type": "quantitative", "scale": {"domain": [0, 5], "nice": false}, "axis": {"orient": "bottom", "values": [0,1,2,3,4,5], "title": "Oxygen [O₂ mL L⁻¹]", "titlePadding": 1}},
    "y": {"field": "depth", "type": "quantitative", "scale": {"domain": [40, 180], "reverse": true, "nice": false, "zero": false}, "axis": {"values": [40,60,80,100,120,140,160,180], "title": null}},
    "detail": {"field": "poly"},
    "order": {"field": "k", "type": "quantitative"},
    "fill": {"field": "count", "type": "quantitative", "scale": {"domain": [20,100,200,300,400,500,600,700,740], "range": ["#f6f9fd","#d6e5f3","#b0cde8","#84b2da","#5a98cc","#3b80c0","#2a6aad","#1f5394","#1b467f"]}, "legend": null}
   }},
  {"data": {"values": [{"label": "Fall"}]},
   "mark": {"type": "text", "align": "left", "baseline": "middle", "fontSize": 23},
   "encoding": {"x": {"datum": 0.085, "type": "quantitative", "axis": null}, "y": {"datum": 52.7, "type": "quantitative", "axis": {"values": [40,60,80,100,120,140,160,180], "title": null}}, "text": {"field": "label"}}}
 ],
 "resolve": {"axis": {"x": "independent"}}
},
{"width": 609, "height": 253,
 "layer": [
  {"data": {"name": "contours"}, "transform": [{"filter": "datum.p == 6"}],
   "mark": {"type": "line", "interpolate": "cardinal-closed", "stroke": "#8796a8", "strokeWidth": 1.2, "clip": true},
   "encoding": {
    "x": {"field": "o2", "type": "quantitative", "scale": {"domain": [0, 5], "nice": false}, "axis": {"orient": "bottom", "values": [0,1,2,3,4,5], "title": "Oxygen [O₂ mL L⁻¹]", "titlePadding": 1}},
    "y": {"field": "depth", "type": "quantitative", "scale": {"domain": [40, 180], "reverse": true, "nice": false, "zero": false}, "axis": {"values": [40,60,80,100,120,140,160,180], "title": null}},
    "detail": {"field": "poly"},
    "order": {"field": "k", "type": "quantitative"},
    "fill": {"field": "count", "type": "quantitative", "scale": {"domain": [20,100,200,300,400,500,600,700,740], "range": ["#f6f9fd","#d6e5f3","#b0cde8","#84b2da","#5a98cc","#3b80c0","#2a6aad","#1f5394","#1b467f"]}, "legend": null}
   }},
  {"data": {"values": [{"label": "Fall"}]},
   "mark": {"type": "text", "align": "left", "baseline": "middle", "fontSize": 23},
   "encoding": {"x": {"datum": 0.095, "type": "quantitative", "axis": null}, "y": {"datum": 52.7, "type": "quantitative", "axis": {"values": [40,60,80,100,120,140,160,180], "title": null}}, "text": {"field": "label"}}}
 ],
 "resolve": {"axis": {"x": "independent"}}
}
]
}
